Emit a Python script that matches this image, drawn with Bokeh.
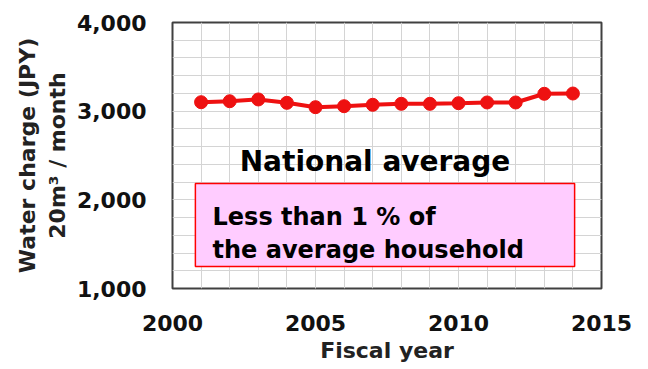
from bokeh.plotting import figure
from bokeh.models import Label, BoxAnnotation, NumeralTickFormatter, FixedTicker
from bokeh.embed import file_html
from bokeh.resources import INLINE

years = [2001, 2002, 2003, 2004, 2005, 2006, 2007, 2008, 2009, 2010, 2011, 2012, 2013, 2014]
charge = [3101, 3112, 3132, 3094, 3045, 3056, 3072, 3083, 3083, 3090, 3098, 3098, 3196, 3199]
x_ticks = [2000, 2005, 2010, 2015]
y_ticks = [1000, 2000, 3000, 4000]

FONT = "DejaVu Sans"
RED = "#EE1111"

p = figure(width=648, height=369, output_backend="svg", toolbar_location=None,
           x_range=(2000, 2015), y_range=(1000, 4000),
           min_border_left=172, min_border_right=47, min_border_top=22, min_border_bottom=81)
p.background_fill_color = "white"
p.border_fill_color = "white"
p.outline_line_color = "#404040"
p.outline_line_width = 2

p.xaxis.ticker = FixedTicker(ticks=x_ticks, minor_ticks=list(range(2000, 2016)))
p.yaxis.ticker = FixedTicker(ticks=y_ticks, minor_ticks=list(range(1000, 4001, 200)))
p.yaxis.formatter = NumeralTickFormatter(format="0,0")

for ax in (p.xaxis, p.yaxis):
    ax.axis_line_color = None
    ax.major_tick_line_color = None
    ax.minor_tick_line_color = None
    ax.major_label_text_font = FONT
    ax.major_label_text_font_style = "bold"
    ax.major_label_text_font_size = "22px"
    ax.major_label_text_color = "#111111"
    ax.axis_label_text_font = FONT
    ax.axis_label_text_font_style = "bold"
    ax.axis_label_text_font_size = "22px"
    ax.axis_label_text_color = "#222222"

p.xaxis.axis_label = "Fiscal year"
p.xaxis.major_label_standoff = 20
p.xaxis.axis_label_standoff = 4
p.yaxis.axis_label = "Water charge (JPY)\n20m³ / month"
p.yaxis.major_label_standoff = 20
p.yaxis.axis_label_standoff = 4

for g in (p.xgrid, p.ygrid):
    g.grid_line_color = "#d4d4d4"
    g.grid_line_width = 1
    g.minor_grid_line_color = "#d4d4d4"
    g.minor_grid_line_width = 1

p.line(years, charge, line_color=RED, line_width=4)
p.scatter(years, charge, size=13, fill_color=RED, line_color=RED)

p.add_layout(Label(x=2007.08, y=2432, text="National average", text_align="center",
                   text_baseline="middle", text_font=FONT, text_font_style="bold",
                   text_font_size="28px", text_color="black"))

p.add_layout(BoxAnnotation(left=2000.8, right=2014.06, bottom=1248, top=2184,
                           fill_color="#FFCCFF", fill_alpha=1.0,
                           line_color="#FF0000", line_alpha=1.0, line_width=1.5))
p.add_layout(Label(x=2001.4, y=1801, text="Less than 1 % of", text_align="left",
                   text_baseline="alphabetic", text_font=FONT, text_font_style="bold",
                   text_font_size="24px", text_color="black"))
p.add_layout(Label(x=2001.4, y=1429, text="the average household", text_align="left",
                   text_baseline="alphabetic", text_font=FONT, text_font_style="bold",
                   text_font_size="24px", text_color="black"))

open("out.html", "w").write(file_html(p, INLINE))
